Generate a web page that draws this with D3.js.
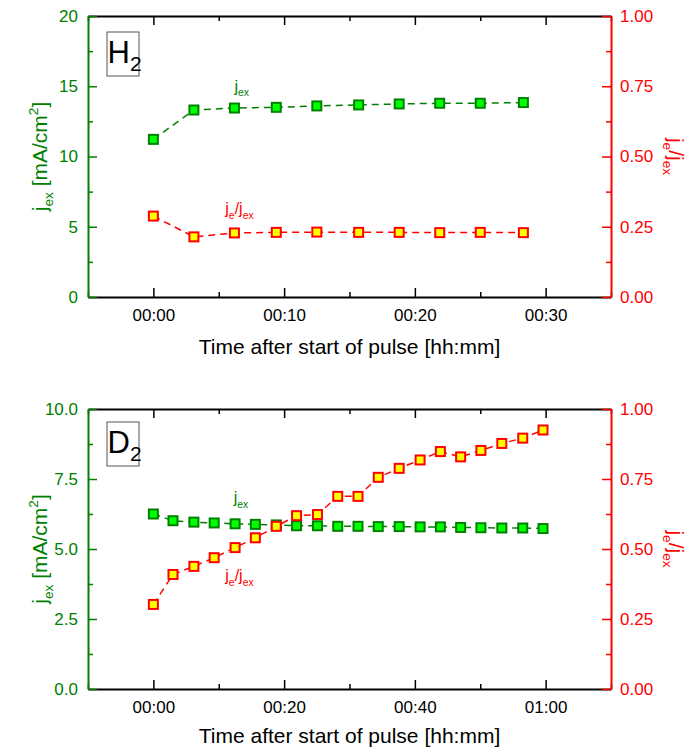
<!DOCTYPE html>
<html>
<head>
<meta charset="utf-8">
<script src="https://cdn.jsdelivr.net/npm/d3@7"></script>
<style>
  body { margin: 0; background: #fff; }
  svg { display: block; font-family: "Liberation Sans", Arial, sans-serif; }
</style>
</head>
<body>
<div id="chart"></div>
<script>
// H2 pulse (top panel) - time in minutes
const h2Time  = [0, 3.1, 6.2, 9.4, 12.5, 15.7, 18.8, 21.9, 25.0, 28.3];
const h2Jex   = [11.22, 13.31, 13.45, 13.50, 13.60, 13.67, 13.74, 13.79, 13.79, 13.84];
const h2Ratio = [0.288, 0.214, 0.228, 0.230, 0.231, 0.230, 0.230, 0.229, 0.230, 0.229];

// D2 pulse (bottom panel)
const d2Time  = [0, 3.0, 6.2, 9.3, 12.5, 15.6, 18.8, 21.9, 25.1, 28.2, 31.3, 34.4, 37.6, 40.8, 43.9, 47.0, 50.1, 53.3, 56.5, 59.6];
const d2Jex   = [6.25, 6.01, 5.96, 5.93, 5.90, 5.88, 5.86, 5.83, 5.83, 5.81, 5.81, 5.80, 5.80, 5.79, 5.79, 5.77, 5.76, 5.75, 5.75, 5.73];
const d2Ratio = [0.302, 0.409, 0.438, 0.469, 0.505, 0.540, 0.581, 0.619, 0.623, 0.688, 0.688, 0.756, 0.788, 0.818, 0.848, 0.829, 0.852, 0.877, 0.896, 0.925];

// tick values
const h2XTicks = [0, 10, 20, 30];
const h2XMinor = [-5, 5, 15, 25, 35];
const h2YTicks = [0, 5, 10, 15, 20];
const h2YMinor = [2.5, 7.5, 12.5, 17.5];
const d2XTicks = [0, 20, 40, 60];
const d2XMinor = [-10, 10, 30, 50, 70];
const d2YTicks = [0, 2.5, 5, 7.5, 10];
const d2YMinor = [1.25, 3.75, 6.25, 8.75];
const ratioTicks = [0, 0.25, 0.5, 0.75, 1];
const ratioMinor = [0.125, 0.375, 0.625, 0.875];

const GREEN = '#008000', LIME = '#00ff00', RED = '#ff0000', YELLOW = '#ffff00';
const width = 691, height = 752;
const left = 88, right = 611;

const svg = d3.select('#chart').append('svg').attr('width', width).attr('height', height);

const fmtTime = m => {
  const h = Math.floor(m / 60), mm = Math.round(m - h * 60);
  return String(h).padStart(2, '0') + ':' + String(mm).padStart(2, '0');
};

// text with sub/superscripts: parts = [[text, 'n'|'sub'|'sup'], ...]
function richText(sel, parts, size) {
  let shift = 0;
  parts.forEach(([t, kind]) => {
    const target = kind === 'sub' ? size * 0.3 : kind === 'sup' ? -size * 0.42 : 0;
    sel.append('tspan')
      .attr('dy', target - shift)
      .attr('font-size', kind === 'n' ? size : size * 0.65)
      .text(t);
    shift = target;
  });
}

function drawPanel(p) {
  const x = d3.scaleLinear().domain(p.xDomain).range([left, right]);
  const yL = d3.scaleLinear().domain(p.yDomain).range([p.bottom, p.top]);
  const yR = d3.scaleLinear().domain([0, 1]).range([p.bottom, p.top]);
  const g = svg.append('g');

  // bottom axis, inward ticks
  g.append('g').attr('transform', `translate(0,${p.bottom})`)
    .call(d3.axisBottom(x).tickValues(p.xTicks).tickFormat(fmtTime).tickSizeInner(-9).tickSizeOuter(0).tickPadding(12))
    .call(a => a.select('.domain').attr('stroke-width', 2))
    .call(a => a.selectAll('line').attr('stroke-width', 1.5))
    .call(a => a.selectAll('text').attr('font-size', 17).attr('fill', '#000').attr('font-family', null));
  g.append('g').attr('transform', `translate(0,${p.bottom})`)
    .call(d3.axisBottom(x).tickValues(p.xMinor).tickFormat('').tickSizeInner(-5).tickSizeOuter(0))
    .call(a => a.select('.domain').remove())
    .call(a => a.selectAll('line').attr('stroke-width', 1.5));

  // top mirror axis
  g.append('g').attr('transform', `translate(0,${p.top})`)
    .call(d3.axisTop(x).tickValues(p.xTicks).tickFormat('').tickSizeInner(-9).tickSizeOuter(0))
    .call(a => a.select('.domain').attr('stroke-width', 2))
    .call(a => a.selectAll('line').attr('stroke-width', 1.5));
  g.append('g').attr('transform', `translate(0,${p.top})`)
    .call(d3.axisTop(x).tickValues(p.xMinor).tickFormat('').tickSizeInner(-5).tickSizeOuter(0))
    .call(a => a.select('.domain').remove())
    .call(a => a.selectAll('line').attr('stroke-width', 1.5));

  // left axis (green)
  g.append('g').attr('transform', `translate(${left},0)`)
    .call(d3.axisLeft(yL).tickValues(p.yTicks).tickFormat(d3.format(p.yFormat)).tickSizeInner(-9).tickSizeOuter(0).tickPadding(10))
    .call(a => a.select('.domain').attr('stroke', GREEN).attr('stroke-width', 2))
    .call(a => a.selectAll('line').attr('stroke', GREEN).attr('stroke-width', 1.5))
    .call(a => a.selectAll('text').attr('font-size', 17).attr('fill', GREEN).attr('font-family', null));
  g.append('g').attr('transform', `translate(${left},0)`)
    .call(d3.axisLeft(yL).tickValues(p.yMinor).tickFormat('').tickSizeInner(-5).tickSizeOuter(0))
    .call(a => a.select('.domain').remove())
    .call(a => a.selectAll('line').attr('stroke', GREEN).attr('stroke-width', 1.5));

  // right axis (red)
  g.append('g').attr('transform', `translate(${right},0)`)
    .call(d3.axisRight(yR).tickValues(ratioTicks).tickFormat(d3.format('.2f')).tickSizeInner(-9).tickSizeOuter(0).tickPadding(9))
    .call(a => a.select('.domain').attr('stroke', RED).attr('stroke-width', 2))
    .call(a => a.selectAll('line').attr('stroke', RED).attr('stroke-width', 1.5))
    .call(a => a.selectAll('text').attr('font-size', 17).attr('fill', RED).attr('font-family', null));
  g.append('g').attr('transform', `translate(${right},0)`)
    .call(d3.axisRight(yR).tickValues(ratioMinor).tickFormat('').tickSizeInner(-5).tickSizeOuter(0))
    .call(a => a.select('.domain').remove())
    .call(a => a.selectAll('line').attr('stroke', RED).attr('stroke-width', 1.5));

  // axis titles
  g.append('text')
    .attr('x', (left + right) / 2).attr('y', p.bottom + p.titleGap)
    .attr('text-anchor', 'middle').attr('font-size', 21)
    .text('Time after start of pulse [hh:mm]');

  const midY = (p.top + p.bottom) / 2;
  const lt = g.append('text')
    .attr('transform', `translate(47,${midY}) rotate(-90)`)
    .attr('text-anchor', 'middle').attr('fill', GREEN);
  richText(lt, [['j', 'n'], ['ex', 'sub'], [' [mA/cm', 'n'], ['2', 'sup'], [']', 'n']], 21);

  const rt = g.append('text')
    .attr('transform', `translate(669,${midY}) rotate(90)`)
    .attr('text-anchor', 'middle').attr('fill', RED);
  richText(rt, [['j', 'n'], ['e', 'sub'], ['/j', 'n'], ['ex', 'sub']], 21);

  // series: jex (left scale), then ratio (right scale) drawn on top
  const series = [
    { vals: p.jex, y: yL, stroke: GREEN, fill: LIME },
    { vals: p.ratio, y: yR, stroke: RED, fill: YELLOW }
  ];
  series.forEach(s => {
    const pts = p.time.map((t, i) => [t, s.vals[i]]);
    g.append('path')
      .datum(pts)
      .attr('fill', 'none').attr('stroke', s.stroke).attr('stroke-width', 1.5)
      .attr('stroke-dasharray', '7,5')
      .attr('d', d3.line().x(d => x(d[0])).y(d => s.y(d[1])));
    g.selectAll(null).data(pts).enter().append('rect')
      .attr('x', d => x(d[0]) - 4.5).attr('y', d => s.y(d[1]) - 4.5)
      .attr('width', 9).attr('height', 9)
      .attr('fill', s.fill).attr('stroke', s.stroke).attr('stroke-width', 2);
  });

  // series labels
  const la = g.append('text')
    .attr('x', x(p.jexLabel[0])).attr('y', yL(p.jexLabel[1]))
    .attr('fill', GREEN);
  richText(la, [['j', 'n'], ['ex', 'sub']], 16);
  const lb = g.append('text')
    .attr('x', x(p.ratioLabel[0])).attr('y', yR(p.ratioLabel[1]))
    .attr('fill', RED);
  richText(lb, [['j', 'n'], ['e', 'sub'], ['/j', 'n'], ['ex', 'sub']], 16);

  // gas box
  const bx = left + 19, by = p.top + p.boxOff;
  g.append('rect').attr('x', bx).attr('y', by).attr('width', 32).attr('height', 44)
    .attr('fill', '#fff').attr('stroke', '#555').attr('stroke-width', 1);
  const gt = g.append('text').attr('x', bx + 0.5).attr('y', by + 30.5);
  gt.append('tspan').attr('font-size', 31).text(p.gas);
  gt.append('tspan').attr('font-size', 21).attr('dy', 8).text('2');
}

drawPanel({
  top: 16, bottom: 297, titleGap: 57,
  xDomain: [-5, 35], yDomain: [0, 20], yFormat: 'd',
  xTicks: h2XTicks, xMinor: h2XMinor, yTicks: h2YTicks, yMinor: h2YMinor,
  time: h2Time, jex: h2Jex, ratio: h2Ratio,
  jexLabel: [6.2, 14.62], ratioLabel: [5.5, 0.295],
  gas: 'H', boxOff: 16
});

drawPanel({
  top: 409, bottom: 689, titleGap: 54,
  xDomain: [-10, 70], yDomain: [0, 10], yFormat: '.1f',
  xTicks: d2XTicks, xMinor: d2XMinor, yTicks: d2YTicks, yMinor: d2YMinor,
  time: d2Time, jex: d2Jex, ratio: d2Ratio,
  jexLabel: [12.3, 6.63], ratioLabel: [11.0, 0.385],
  gas: 'D', boxOff: 13
});
</script>
</body>
</html>
